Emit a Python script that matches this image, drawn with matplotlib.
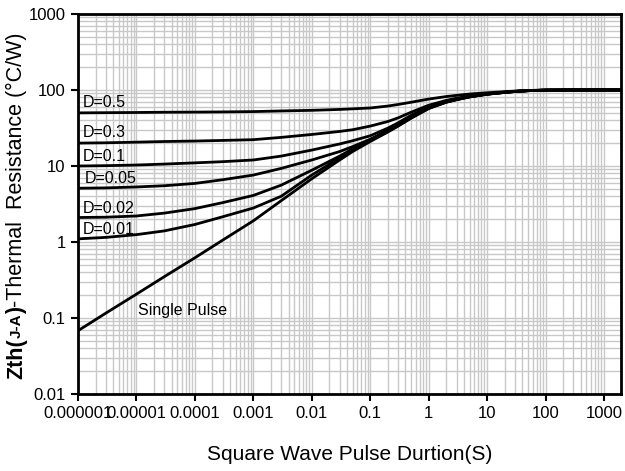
import matplotlib
matplotlib.use("Agg")
import matplotlib.pyplot as plt
from matplotlib.ticker import LogLocator, FixedLocator, FixedFormatter, NullFormatter

plt.rcParams['font.family'] = ['Liberation Sans', 'DejaVu Sans']

# ---- data ----
t = [1e-6, 3e-6, 1e-5, 3e-5, 1e-4, 3e-4, 1e-3, 3e-3, 1e-2, 3e-2, 5e-2, 0.1, 0.2, 0.3,
     0.5, 1, 2, 3, 5, 10, 20, 30, 50, 100, 300, 1000, 2000]
single = [0.068, 0.116, 0.206, 0.35, 0.62, 1.06, 1.9, 3.5, 6.8, 12, 15.5, 21, 28, 33.5,
          42.5, 57, 69, 74.5, 81, 88, 93, 95.5, 98, 99.5, 100, 100, 100]
d001 = [1.1, 1.15, 1.25, 1.4, 1.7, 2.15, 2.8, 4.0, 7.6, 12.8, 16.2, 21.5, 28.5, 34,
        43, 57.5, 69.3, 74.8, 81.2, 88.1, 93, 95.5, 98, 99.5, 100, 100, 100]
d002 = [2.1, 2.12, 2.2, 2.4, 2.75, 3.3, 4.1, 5.6, 8.8, 13.5, 16.8, 22, 29, 34.5,
        43.5, 58, 69.6, 75, 81.4, 88.2, 93.1, 95.6, 98, 99.5, 100, 100, 100]
d005 = [5.1, 5.15, 5.3, 5.5, 5.9, 6.6, 7.6, 9.3, 12.0, 15.5, 18, 22.5, 29.5, 35,
        44.5, 58.5, 70.2, 75.5, 81.7, 88.4, 93.2, 95.7, 98, 99.5, 100, 100, 100]
d01 = [10, 10.1, 10.3, 10.6, 11, 11.4, 12, 13.5, 16.2, 19.5, 21.5, 25, 31.5, 37,
       46.5, 60, 71, 76, 82, 88.7, 93.4, 95.8, 98.1, 99.5, 100, 100, 100]
d03 = [20, 20.2, 20.6, 21, 21.3, 21.7, 22.2, 23.8, 26, 28.5, 30, 33.5, 38.5, 43,
       51, 63, 73, 78, 83, 89.5, 93.8, 96, 98.2, 99.6, 100, 100, 100]
d05 = [50, 50.3, 50.6, 51, 51.2, 51.5, 52, 53, 54, 55.5, 56.5, 58, 61.5, 64.5,
       69, 76, 82, 85, 88.5, 92, 95, 96.8, 98.6, 99.8, 100, 100, 100]

series = [single, d001, d002, d005, d01, d03, d05]
labels = ["D=0.5", "D=0.3", "D=0.1", "D=0.05", "D=0.02", "D=0.01"]
label_x = [1.22e-6, 1.22e-6, 1.22e-6, 1.32e-6, 1.22e-6, 1.22e-6]
label_y = [68, 27.2, 13.5, 6.95, 2.8, 1.48]

xticks = [1e-6, 1e-5, 1e-4, 1e-3, 1e-2, 1e-1, 1, 10, 100, 1000]
xticklabels = ["0.000001", "0.00001", "0.0001", "0.001", "0.01", "0.1", "1", "10", "100", "1000"]
yticks = [0.01, 0.1, 1, 10, 100, 1000]
yticklabels = ["0.01", "0.1", "1", "10", "100", "1000"]

W, H = 625, 471
fig = plt.figure(figsize=(W / 100, H / 100), dpi=100)
ax = fig.add_axes([78 / W, 1 - 394 / H, (621 - 78) / W, (394 - 14) / H])
ax.set_xscale('log')
ax.set_yscale('log')
ax.set_xlim(1e-6, 1950)
ax.set_ylim(0.01, 1000)

ax.xaxis.set_major_locator(FixedLocator(xticks))
ax.xaxis.set_major_formatter(FixedFormatter(xticklabels))
ax.yaxis.set_major_locator(FixedLocator(yticks))
ax.yaxis.set_major_formatter(FixedFormatter(yticklabels))
ax.xaxis.set_minor_locator(LogLocator(base=10, subs=range(2, 10), numticks=50))
ax.yaxis.set_minor_locator(LogLocator(base=10, subs=range(2, 10), numticks=50))
ax.xaxis.set_minor_formatter(NullFormatter())
ax.yaxis.set_minor_formatter(NullFormatter())
ax.tick_params(which='major', direction='out', length=5, width=1.5, labelsize=12, colors='black', pad=4)
ax.tick_params(which='minor', length=0)

ax.grid(True, which='both', color='#c8c8c8', linewidth=1.0)
ax.set_axisbelow(True)
for s in ax.spines.values():
    s.set_linewidth(2)
    s.set_color('black')

for ys in series:
    ax.plot(t, ys, color='black', linewidth=2, solid_capstyle='butt', solid_joinstyle='round')

for lab, lx, ly in zip(labels, label_x, label_y):
    ax.text(lx, ly, lab, fontsize=11.5, ha='left', va='center', color='black')
ax.text(1.07e-5, 0.124, "Single Pulse", fontsize=11.5, ha='left', va='center', color='black')

fig.text(350 / W, 1 - 455 / H, "Square Wave Pulse Durtion(S)", fontsize=15, ha='center', va='center')

# y label built from pieces (bold Zth with smaller J-A)
renderer = fig.canvas.get_renderer()
pieces = [("Zth(", 'bold', 15.5), ("J-A", 'bold', 11), (")", 'bold', 15.5),
          ("-Thermal  Resistance (°C/W)", 'normal', 15.5)]
ypix = H - 379
xfig = 16.5 / W
for s, wgt, fs in pieces:
    tx = fig.text(xfig, ypix / H, s, rotation=90, ha='center', va='bottom',
                  fontsize=fs, fontweight=wgt)
    bb = tx.get_window_extent(renderer)
    ypix += bb.height

fig.savefig("out.png", dpi=100)
